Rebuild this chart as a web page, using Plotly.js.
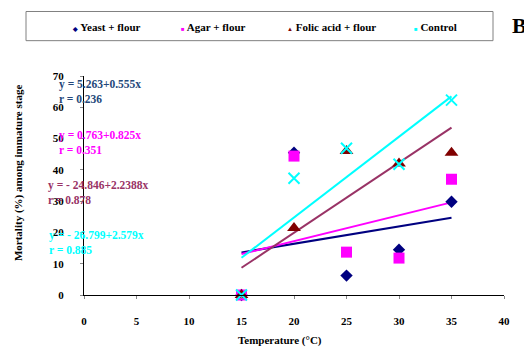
<!DOCTYPE html>
<html>
<head>
<meta charset="utf-8">
<script src="https://cdn.plot.ly/plotly-3.0.1.min.js"></script>
<style>html,body{margin:0;padding:0;background:#fff;}#chart{width:524px;height:347px;}</style>
</head>
<body>
<div id="chart"></div>
<script>
// ---- data ----
const temperature = [15, 20, 25, 30, 35];
const yeast = [0, 45.5, 6.2, 14.5, 29.8];
const agar = [0, 44.4, 13.7, 11.8, 37];
const folic = [0, 21.4, 46, 42, 45.5];
const control = [0, 37.3, 46.9, 41.8, 62.3];

// fitted lines (values at 15 and 35 °C, as drawn)
const fitX = [15, 35];
const yeastFit = [13.6, 24.7];
const agarFit = [13.1, 29.6];
const folicFit = [8.7, 53.5];
const controlFit = [11.9, 63.5];

const seriesNames = ['Yeast + flour', 'Agar + flour', 'Folic acid + flour', 'Control'];
const equations = ['y = 5.263+0.555x', 'y = 0.763+0.825x', 'y = - 24.846+2.2388x', 'y = - 26.799+2.579x'];
const rValues = ['r = 0.236', 'r = 0.351', 'r = 0.878', 'r = 0.885'];
const xTicks = [0, 5, 10, 15, 20, 25, 30, 35, 40];
const yTicks = [0, 10, 20, 30, 40, 50, 60, 70];

// ---- layout helpers (pixel -> paper) ----
const L = 84, R = 504, T = 75.5, B = 295.5;
const px = x => (x - L) / (R - L);
const py = y => (B - y) / (B - T);

const FONT = 'Liberation Serif, Times New Roman, serif';
const cYeast = '#000080', cAgar = '#FF00FF', cFolic = '#800000', cControl = '#00FFFF';
const cFolicLine = '#993366', cYeastText = '#24487A';

const traces = [
  {x: fitX, y: yeastFit, mode: 'lines', line: {color: cYeast, width: 2}},
  {x: fitX, y: agarFit, mode: 'lines', line: {color: cAgar, width: 2}},
  {x: fitX, y: folicFit, mode: 'lines', line: {color: cFolicLine, width: 2}},
  {x: fitX, y: controlFit, mode: 'lines', line: {color: cControl, width: 2}},
  {x: temperature, y: yeast, name: seriesNames[0], mode: 'markers', marker: {symbol: 'diamond', size: 9.5, color: cYeast}},
  {x: temperature, y: agar, name: seriesNames[1], mode: 'markers', marker: {symbol: 'square', size: 11, color: cAgar}},
  {x: temperature, y: folic, name: seriesNames[2], mode: 'markers', marker: {symbol: 'triangle-up', size: 12, color: cFolic}},
  {x: temperature, y: control, name: seriesNames[3], mode: 'markers', marker: {symbol: 'x-thin', size: 11, line: {color: cControl, width: 2}}}
];
traces.forEach(t => { t.showlegend = false; t.hoverinfo = 'skip'; t.cliponaxis = false; });

const eqColors = [cYeastText, cAgar, cFolicLine, cControl];
const eqPos = [[57, 91.5], [57, 142.5], [46, 193], [47, 242.5]];
const annotations = [];
for (let i = 0; i < 4; i++) {
  annotations.push({
    xref: 'paper', yref: 'paper', x: px(eqPos[i][0]), y: py(eqPos[i][1]),
    xanchor: 'left', yanchor: 'middle', align: 'left', showarrow: false,
    text: equations[i] + '<br>' + rValues[i],
    font: {family: FONT, size: 11.5, color: eqColors[i], weight: 'bold'}
  });
}
// legend (manual)
const legGlyph = ['◆', '■', '▲', '■'];
const legColor = [cYeast, cAgar, cFolic, cControl];
const legX = [70, 179, 285, 412];
for (let i = 0; i < 4; i++) {
  annotations.push({
    xref: 'paper', yref: 'paper', x: px(legX[i]), y: py(26),
    xanchor: 'left', yanchor: 'middle', showarrow: false,
    text: '<span style="color:' + legColor[i] + ';font-size:6px">' + legGlyph[i] + '</span> ' + seriesNames[i],
    font: {family: FONT, size: 11, color: '#000', weight: 'bold'}
  });
}
annotations.push({xref: 'paper', yref: 'paper', x: px(510), y: py(25), xanchor: 'left', yanchor: 'middle', showarrow: false,
  text: 'B', font: {family: FONT, size: 22, color: '#000', weight: 'bold'}});
annotations.push({xref: 'paper', yref: 'paper', x: px(280), y: py(341), xanchor: 'center', yanchor: 'middle', showarrow: false,
  text: 'Temperature (°C)', font: {family: FONT, size: 11, color: '#000', weight: 'bold'}});
annotations.push({xref: 'paper', yref: 'paper', x: px(18), y: py(173), xanchor: 'center', yanchor: 'middle', showarrow: false, textangle: -90,
  text: 'Mortality (%) among immature stage', font: {family: FONT, size: 11, color: '#000', weight: 'bold'}});

const layout = {
  width: 524, height: 347,
  margin: {l: L, r: 524 - R, t: T, b: 347 - B, pad: 0},
  paper_bgcolor: '#fff', plot_bgcolor: '#fff',
  font: {family: FONT, size: 11, color: '#000'},
  showlegend: false,
  xaxis: {
    range: [0, 40], tickvals: xTicks, ticktext: xTicks.map(String),
    showgrid: false, zeroline: false, showline: true, linecolor: '#000', linewidth: 1,
    ticks: 'outside', ticklen: 3, tickcolor: '#888', ticklabelstandoff: 13,
    tickfont: {family: FONT, size: 11, color: '#000', weight: 'bold'}, fixedrange: true
  },
  yaxis: {
    range: [0, 70], tickvals: yTicks, ticktext: yTicks.map(String),
    showgrid: false, zeroline: false, showline: true, linecolor: '#000', linewidth: 1,
    ticks: 'outside', ticklen: 3, tickcolor: '#888', ticklabelstandoff: 14,
    tickfont: {family: FONT, size: 11, color: '#000', weight: 'bold'}, fixedrange: true
  },
  shapes: [{type: 'rect', xref: 'paper', yref: 'paper', x0: px(26), x1: px(493), y0: py(10.7), y1: py(40),
    line: {color: '#808080', width: 1}, fillcolor: 'rgba(0,0,0,0)'}],
  annotations: annotations
};

Plotly.newPlot('chart', traces, layout, {displayModeBar: false, staticPlot: true});
</script>
</body>
</html>
